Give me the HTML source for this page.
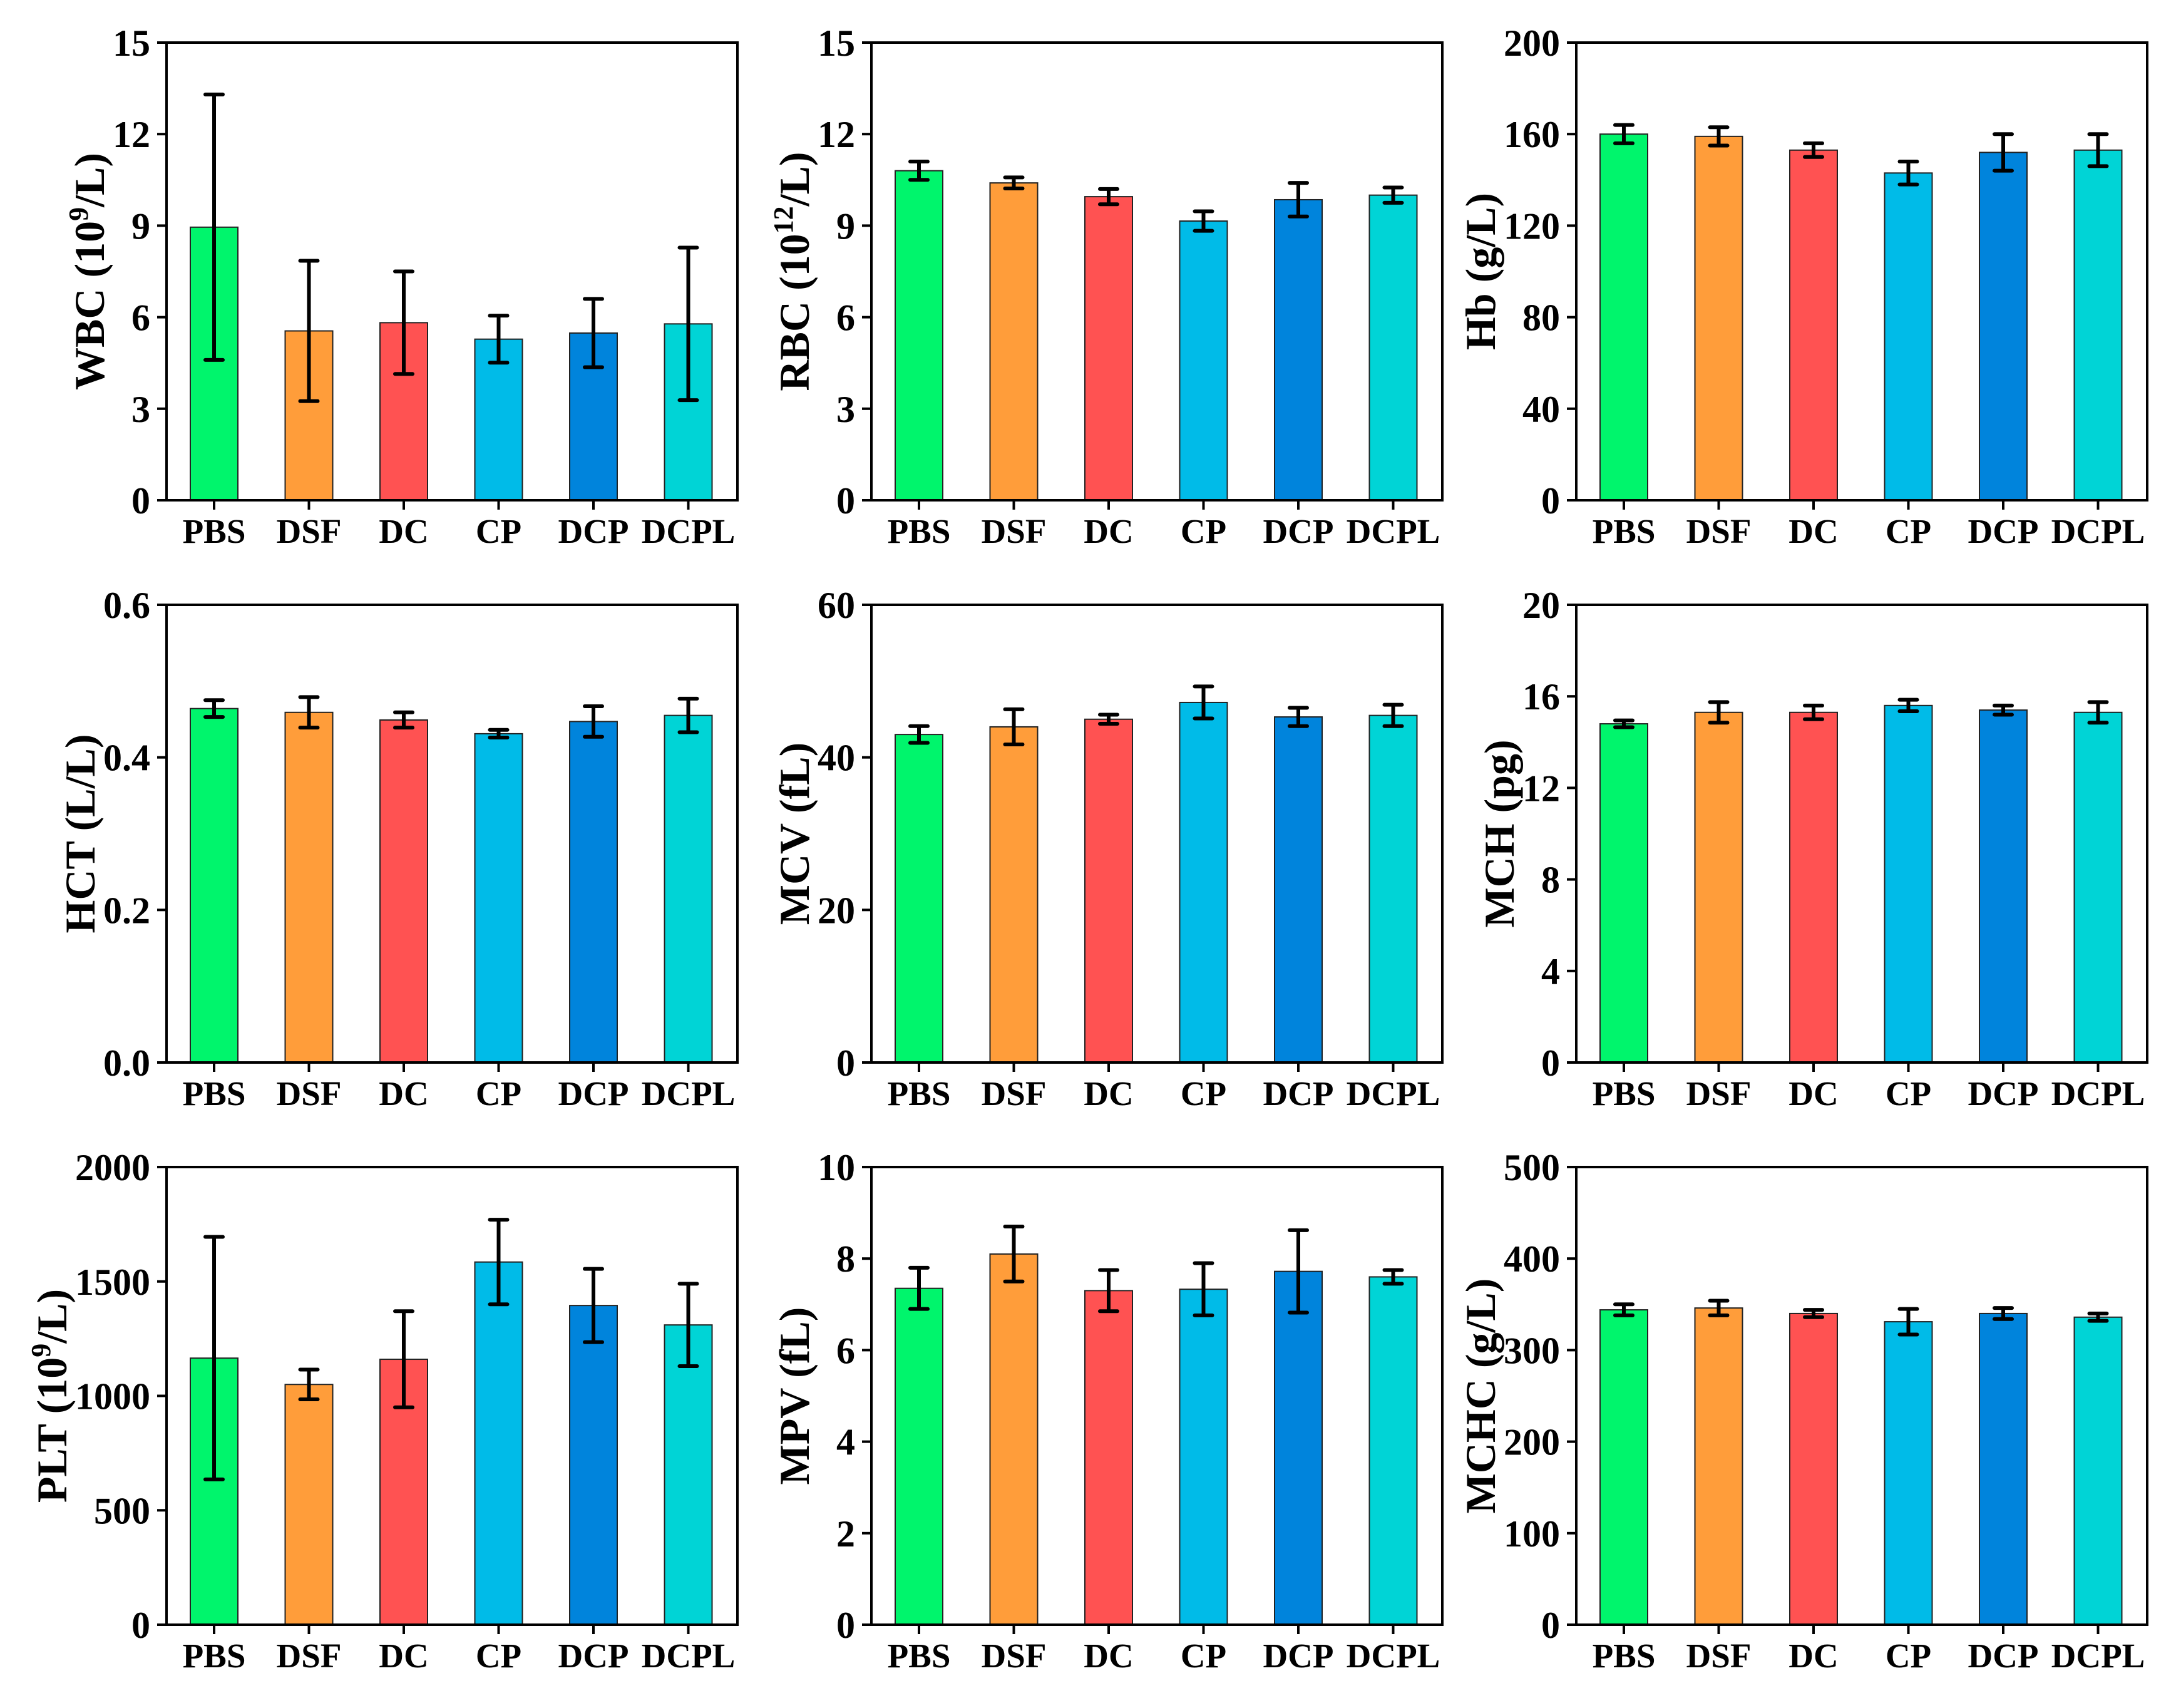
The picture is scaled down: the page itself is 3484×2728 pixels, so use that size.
<!DOCTYPE html>
<html><head><meta charset="utf-8"><style>
html,body{margin:0;padding:0;background:#fff;}
svg{display:block;}
text{font-family:"Liberation Serif","Times New Roman",serif;font-weight:bold;fill:#000;}
</style></head>
<body>
<svg id="fig" width="3484" height="2728" viewBox="0 0 3484 2728" xmlns="http://www.w3.org/2000/svg"></svg>
<script>
const categories = ["PBS","DSF","DC","CP","DCP","DCPL"];
const colors = ["#00F56C","#FF9D3A","#FF5252","#00BBE8","#0084DC","#00D4D6"];
const wbcMean = [8.95,5.55,5.82,5.28,5.48,5.78];
const wbcErr  = [4.35,2.3,1.68,0.77,1.12,2.5];
const rbcMean = [10.8,10.4,9.95,9.15,9.85,10.0];
const rbcErr  = [0.3,0.18,0.25,0.32,0.55,0.25];
const hbMean  = [160,159,153,143,152,153];
const hbErr   = [4,4,3,5,8,7];
const hctMean = [0.464,0.459,0.449,0.431,0.447,0.455];
const hctErr  = [0.011,0.02,0.01,0.005,0.02,0.022];
const mcvMean = [43,44,45,47.2,45.3,45.5];
const mcvErr  = [1.1,2.3,0.6,2.1,1.2,1.4];
const mchMean = [14.8,15.3,15.3,15.6,15.4,15.3];
const mchErr  = [0.15,0.45,0.3,0.25,0.2,0.45];
const pltMean = [1165,1050,1160,1585,1395,1310];
const pltErr  = [530,65,210,185,160,180];
const mpvMean = [7.35,8.1,7.3,7.33,7.72,7.6];
const mpvErr  = [0.45,0.6,0.45,0.57,0.9,0.15];
const mchcMean = [344,346,340,331,340,336];
const mchcErr  = [6,8,4,14,6,4];
const wbcTicks = ["0","3","6","9","12","15"];
const rbcTicks = ["0","3","6","9","12","15"];
const hbTicks = ["0","40","80","120","160","200"];
const hctTicks = ["0.0","0.2","0.4","0.6"];
const mcvTicks = ["0","20","40","60"];
const mchTicks = ["0","4","8","12","16","20"];
const pltTicks = ["0","500","1000","1500","2000"];
const mpvTicks = ["0","2","4","6","8","10"];
const mchcTicks = ["0","100","200","300","400","500"];

const NS="http://www.w3.org/2000/svg";
const svg=document.getElementById('fig');
function mk(tag,attrs,parent){const e=document.createElementNS(NS,tag);for(const k in attrs)e.setAttribute(k,attrs[k]);(parent||svg).appendChild(e);return e;}

const colX=[266,1392,2518], rowY=[68,966,1864], W=912, H=731;
const panels=[
 {id:"wbc",title:["WBC (10","9","/L)"],mean:wbcMean,err:wbcErr,ticks:wbcTicks},
 {id:"rbc",title:["RBC (10","12","/L)"],mean:rbcMean,err:rbcErr,ticks:rbcTicks},
 {id:"hb",title:["Hb (g/L)"],mean:hbMean,err:hbErr,ticks:hbTicks},
 {id:"hct",title:["HCT (L/L)"],mean:hctMean,err:hctErr,ticks:hctTicks},
 {id:"mcv",title:["MCV (fL)"],mean:mcvMean,err:mcvErr,ticks:mcvTicks},
 {id:"mch",title:["MCH (pg)"],mean:mchMean,err:mchErr,ticks:mchTicks},
 {id:"plt",title:["PLT (10","9","/L)"],mean:pltMean,err:pltErr,ticks:pltTicks},
 {id:"mpv",title:["MPV (fL)"],mean:mpvMean,err:mpvErr,ticks:mpvTicks},
 {id:"mchc",title:["MCHC (g/L)"],mean:mchcMean,err:mchcErr,ticks:mchcTicks}
];

panels.forEach((p,pi)=>{
  const x0=colX[pi%3], y0=rowY[Math.floor(pi/3)], y1=y0+H;
  const g=mk('g',{});
  
  
  const vals=p.ticks.map(Number), vmin=vals[0], vmax=vals[vals.length-1];
  const ys=v=>y1-(v-vmin)/(vmax-vmin)*H;
  const xs=i=>x0+76+i*151.5;
  p.mean.forEach((m,i)=>{
    const b=mk('rect',{x:xs(i)-38,y:ys(m),width:76,height:y1-ys(m),fill:colors[i],stroke:'#222','stroke-width':2},g);
    
    
    const e=mk('path',{d:`M${xs(i)},${ys(m-p.err[i])}V${ys(m+p.err[i])}M${xs(i)-14},${ys(m-p.err[i])}h28M${xs(i)-14},${ys(m+p.err[i])}h28`,stroke:'#000','stroke-width':6,'stroke-linecap':'round',fill:'none'},g);
    
    
  });
  const fr=mk('rect',{x:x0,y:y0,width:W,height:H,fill:'none',stroke:'#000','stroke-width':4},g);
  
  
  let maxW=0;
  p.ticks.forEach((t,k)=>{
    const y=ys(vals[k]);
    mk('line',{x1:x0-15,x2:x0,y1:y,y2:y,stroke:'#000','stroke-width':4},g);
    const tx=mk('text',{x:x0-26,y:y+21,'text-anchor':'end','font-size':60},g);
    tx.textContent=t;
    
    
    maxW=Math.max(maxW,tx.getComputedTextLength());
  });
  categories.forEach((c,i)=>{
    mk('line',{x1:xs(i),x2:xs(i),y1:y1,y2:y1+15,stroke:'#000','stroke-width':4},g);
    const tx=mk('text',{x:xs(i),y:y1+68,'text-anchor':'middle','font-size':55},g);
    tx.textContent=c;
    
    
  });
  const cx=x0-26-maxW-36, cy=(y0+y1)/2;
  const tt=mk('text',{x:cx,y:cy,'text-anchor':'middle','font-size':68,transform:`rotate(-90 ${cx} ${cy}) translate(0 22)`},g);
  
  
  if(p.title.length===1){tt.textContent=p.title[0];}
  else{
    const a=mk('tspan',{},tt);a.textContent=p.title[0];
    const s=mk('tspan',{dy:-26,'font-size':44},tt);s.textContent=p.title[1];
    const b=mk('tspan',{dy:26},tt);b.textContent=p.title[2];
  }
});
</script>
</body></html>
